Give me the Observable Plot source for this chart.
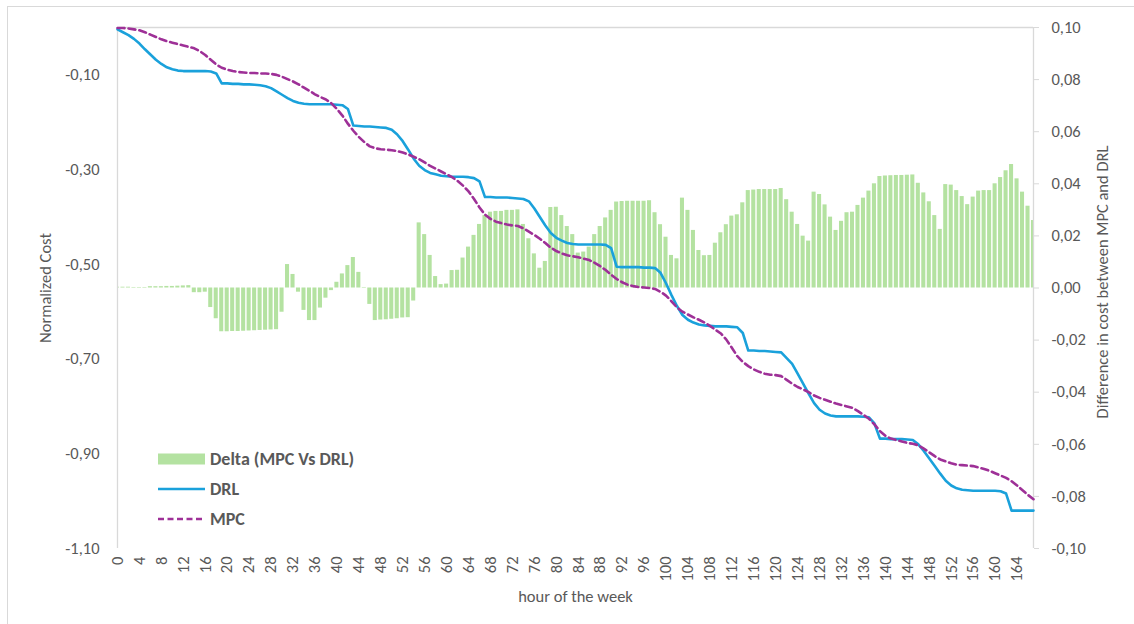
<!DOCTYPE html>
<html>
<head>
<meta charset="utf-8">
<script src="https://cdn.jsdelivr.net/npm/d3@7"></script>
<script src="https://cdn.jsdelivr.net/npm/@observablehq/plot@0.6"></script>
<style>
  html, body { margin: 0; padding: 0; background: #ffffff; }
  #chart { position: relative; width: 1134px; height: 624px; overflow: hidden; font-family: Carlito, Calibri, Lato, sans-serif; }
  #frame { position: absolute; left: 7px; top: 6px; width: 1200px; height: 700px; border: 1px solid #d9d9d9; box-sizing: border-box; }
</style>
</head>
<body>
<div id="chart"><div id="frame"></div></div>
<script>
// ---- data ----
const drl = [
  -0.004,-0.010,-0.016,-0.024,-0.034,-0.046,-0.057,-0.068,-0.077,-0.084,-0.088,-0.091,
  -0.092,-0.092,-0.092,-0.092,-0.092,-0.093,-0.097,-0.118,-0.118,-0.119,-0.119,-0.120,
  -0.120,-0.121,-0.122,-0.124,-0.128,-0.135,-0.142,-0.149,-0.155,-0.159,-0.161,-0.162,
  -0.162,-0.162,-0.162,-0.162,-0.163,-0.164,-0.172,-0.207,-0.208,-0.209,-0.209,-0.210,
  -0.211,-0.212,-0.216,-0.226,-0.240,-0.258,-0.277,-0.292,-0.301,-0.307,-0.310,-0.313,
  -0.314,-0.315,-0.315,-0.315,-0.316,-0.318,-0.325,-0.358,-0.358,-0.359,-0.359,-0.359,
  -0.360,-0.361,-0.362,-0.367,-0.382,-0.400,-0.418,-0.434,-0.444,-0.450,-0.455,-0.457,
  -0.458,-0.458,-0.458,-0.458,-0.458,-0.459,-0.466,-0.505,-0.506,-0.506,-0.506,-0.506,
  -0.507,-0.507,-0.508,-0.518,-0.540,-0.565,-0.588,-0.607,-0.617,-0.623,-0.627,-0.629,
  -0.630,-0.631,-0.631,-0.631,-0.632,-0.633,-0.645,-0.682,-0.682,-0.683,-0.683,-0.684,
  -0.685,-0.686,-0.698,-0.710,-0.731,-0.752,-0.773,-0.793,-0.807,-0.815,-0.819,-0.821,
  -0.821,-0.821,-0.821,-0.821,-0.822,-0.823,-0.836,-0.868,-0.868,-0.869,-0.869,-0.869,
  -0.870,-0.871,-0.880,-0.894,-0.910,-0.926,-0.942,-0.957,-0.967,-0.973,-0.976,-0.977,
  -0.978,-0.978,-0.978,-0.978,-0.978,-0.979,-0.984,-1.020,-1.020,-1.020,-1.020,-1.020
];
const mpc = [
  -0.001,-0.001,-0.002,-0.004,-0.006,-0.010,-0.015,-0.020,-0.025,-0.029,-0.032,-0.035,
  -0.038,-0.041,-0.044,-0.050,-0.058,-0.068,-0.078,-0.085,-0.089,-0.092,-0.094,-0.095,
  -0.096,-0.096,-0.097,-0.097,-0.098,-0.100,-0.104,-0.109,-0.114,-0.120,-0.127,-0.134,
  -0.141,-0.147,-0.152,-0.160,-0.172,-0.186,-0.203,-0.218,-0.231,-0.242,-0.251,-0.255,
  -0.257,-0.258,-0.259,-0.261,-0.264,-0.268,-0.273,-0.278,-0.285,-0.292,-0.298,-0.304,
  -0.310,-0.316,-0.324,-0.334,-0.346,-0.362,-0.380,-0.395,-0.404,-0.410,-0.413,-0.416,
  -0.418,-0.419,-0.424,-0.431,-0.438,-0.446,-0.455,-0.465,-0.472,-0.477,-0.481,-0.483,
  -0.485,-0.488,-0.491,-0.497,-0.504,-0.512,-0.522,-0.531,-0.538,-0.543,-0.546,-0.548,
  -0.549,-0.550,-0.552,-0.558,-0.566,-0.578,-0.591,-0.600,-0.606,-0.612,-0.617,-0.623,
  -0.630,-0.638,-0.646,-0.659,-0.676,-0.694,-0.706,-0.715,-0.722,-0.727,-0.731,-0.733,
  -0.734,-0.736,-0.744,-0.752,-0.759,-0.764,-0.770,-0.777,-0.782,-0.786,-0.790,-0.794,
  -0.797,-0.800,-0.803,-0.810,-0.818,-0.826,-0.838,-0.852,-0.862,-0.868,-0.871,-0.874,
  -0.877,-0.879,-0.882,-0.889,-0.897,-0.905,-0.912,-0.916,-0.920,-0.923,-0.924,-0.925,
  -0.926,-0.929,-0.932,-0.936,-0.941,-0.946,-0.951,-0.958,-0.967,-0.977,-0.987,-0.996
];
const delta = [
  0.0003,0.0003,0.0003,0.0002,0.0002,0.0002,0.0005,0.0005,0.0005,0.0006,0.0006,0.0007,
  0.0008,0.0009,-0.0018,-0.0018,-0.0016,-0.0075,-0.0118,-0.0168,-0.0168,-0.0167,-0.0167,-0.0166,
  -0.0165,-0.0164,-0.0163,-0.0162,-0.0161,-0.0160,-0.0093,0.0090,0.0052,-0.0016,-0.0086,-0.0125,
  -0.0125,-0.0077,-0.0039,-0.0010,0.0022,0.0054,0.0086,0.0117,0.0060,0.0002,-0.0063,-0.0125,
  -0.0123,-0.0122,-0.0120,-0.0118,-0.0115,-0.0114,-0.0050,0.0250,0.0205,0.0125,0.0044,0.0013,
  0.0015,0.0067,0.0068,0.0115,0.0157,0.0202,0.0244,0.0278,0.0291,0.0294,0.0294,0.0298,
  0.0298,0.0300,0.0244,0.0189,0.0131,0.0076,0.0102,0.0309,0.0310,0.0278,0.0236,0.0205,
  0.0134,0.0138,0.0157,0.0205,0.0236,0.0269,0.0298,0.0330,0.0332,0.0333,0.0333,0.0333,
  0.0333,0.0335,0.0289,0.0243,0.0195,0.0125,0.0112,0.0345,0.0298,0.0221,0.0144,0.0124,
  0.0125,0.0172,0.0212,0.0243,0.0276,0.0281,0.0327,0.0374,0.0376,0.0378,0.0378,0.0378,
  0.0378,0.0382,0.0339,0.0291,0.0244,0.0199,0.0180,0.0368,0.0359,0.0319,0.0272,0.0221,
  0.0256,0.0289,0.0291,0.0317,0.0345,0.0372,0.0400,0.0428,0.0430,0.0431,0.0432,0.0432,
  0.0433,0.0434,0.0402,0.0365,0.0331,0.0278,0.0225,0.0397,0.0395,0.0374,0.0351,0.0320,
  0.0349,0.0372,0.0374,0.0374,0.0400,0.0424,0.0450,0.0474,0.0419,0.0368,0.0314,0.0259
];
const xTicks = [0,4,8,12,16,20,24,28,32,36,40,44,48,52,56,60,64,68,72,76,80,84,88,92,96,100,104,108,112,116,120,124,128,132,136,140,144,148,152,156,160,164];
const leftTicks = [-0.1,-0.3,-0.5,-0.7,-0.9,-1.1];
const rightTicks = [0.1,0.08,0.06,0.04,0.02,0,-0.02,-0.04,-0.06,-0.08,-0.1];
const seriesNames = ["Delta (MPC Vs DRL)", "DRL", "MPC"];
const labels = {left: "Normalized Cost", right: "Difference in cost between MPC and DRL", x: "hour of the week"};

// ---- build ----
const rows = drl.map((v, i) => ({hour: i, drl: v, mpc: mpc[i], delta: delta[i]}));
const fmt = d => d.toFixed(2).replace(".", ",");
const GREEN = "#b4e2a1", BLUE = "#1aa1db", PURPLE = "#9e3097", GRID = "#d9d9d9", TEXT = "#595959";
const FONT = "Carlito, Calibri, Lato, sans-serif";
const FS = 16.5;
const dims = {width: 1134, height: 624, marginLeft: 117, marginRight: 101, marginTop: 27, marginBottom: 76};
const baseStyle = {position: "absolute", left: "0px", top: "0px", background: "transparent",
  fontFamily: FONT, fontSize: FS + "px", color: TEXT, overflow: "visible"};

const plotBars = Plot.plot({
  ...dims,
  x: {domain: [0, 167], axis: null},
  y: {domain: [-0.1, 0.1]},
  style: baseStyle,
  marks: [
    Plot.rect(rows, {x1: d => d.hour - 0.37, x2: d => d.hour + 0.37, y1: 0, y2: "delta", fill: GREEN, clip: true}),
    Plot.ruleX([167], {stroke: GRID, strokeWidth: 1.3}),
    Plot.axisY({anchor: "right", ticks: rightTicks, tickSize: 5, tickPadding: 13, stroke: GRID, fill: TEXT, tickFormat: fmt, label: null}),
    Plot.text([labels.right], {frameAnchor: "right", textAnchor: "middle", dx: 69, dy: -6, rotate: -90, fill: TEXT, fontSize: FS})
  ]
});

const plotLines = Plot.plot({
  ...dims,
  x: {domain: [0, 167]},
  y: {domain: [-1.1, 0]},
  style: baseStyle,
  marks: [
    Plot.ruleY([0], {stroke: GRID, strokeWidth: 1.3}),
    Plot.ruleX([0], {stroke: GRID, strokeWidth: 1.3}),
    Plot.axisY({ticks: leftTicks, tickSize: 0, tickPadding: 18, fill: TEXT, tickFormat: fmt, label: null}),
    Plot.axisX({ticks: xTicks, tickRotate: -90, tickSize: 0, tickPadding: 8, fill: TEXT, tickFormat: d => String(d), label: null}),
    Plot.text([labels.left], {frameAnchor: "left", textAnchor: "middle", dx: -72, rotate: -90, fill: TEXT, fontSize: FS}),
    Plot.text([labels.x], {frameAnchor: "bottom", textAnchor: "middle", dy: 53, fill: TEXT, fontSize: FS}),
    Plot.line(rows, {x: "hour", y: "drl", stroke: BLUE, strokeWidth: 2.6}),
    Plot.line(rows, {x: "hour", y: "mpc", stroke: PURPLE, strokeWidth: 2.6, strokeDasharray: "7,4"})
  ]
});

const chart = document.getElementById("chart");
chart.appendChild(plotBars);
chart.appendChild(plotLines);

// legend
const ns = "http://www.w3.org/2000/svg";
const leg = document.createElementNS(ns, "svg");
leg.setAttribute("width", 260); leg.setAttribute("height", 90);
Object.assign(leg.style, {position: "absolute", left: "150px", top: "444px", overflow: "visible"});
const items = [
  {name: seriesNames[0], kind: "rect", color: GREEN, y: 15},
  {name: seriesNames[1], kind: "line", color: BLUE, y: 45},
  {name: seriesNames[2], kind: "dash", color: PURPLE, y: 75}
];
for (const it of items) {
  if (it.kind === "rect") {
    const r = document.createElementNS(ns, "rect");
    r.setAttribute("x", 8); r.setAttribute("y", it.y - 5.5); r.setAttribute("width", 47); r.setAttribute("height", 11);
    r.setAttribute("fill", it.color); leg.appendChild(r);
  } else {
    const l = document.createElementNS(ns, "line");
    l.setAttribute("x1", 8); l.setAttribute("x2", 55); l.setAttribute("y1", it.y); l.setAttribute("y2", it.y);
    l.setAttribute("stroke", it.color); l.setAttribute("stroke-width", 2.6);
    if (it.kind === "dash") l.setAttribute("stroke-dasharray", "6,3.5");
    leg.appendChild(l);
  }
  const t = document.createElementNS(ns, "text");
  t.setAttribute("x", 60); t.setAttribute("y", it.y); t.setAttribute("dy", "0.35em");
  t.setAttribute("fill", TEXT); t.setAttribute("font-weight", "bold"); t.setAttribute("font-size", "18px");
  t.setAttribute("font-family", FONT);
  t.textContent = it.name;
  leg.appendChild(t);
}
chart.appendChild(leg);
</script>
</body>
</html>
